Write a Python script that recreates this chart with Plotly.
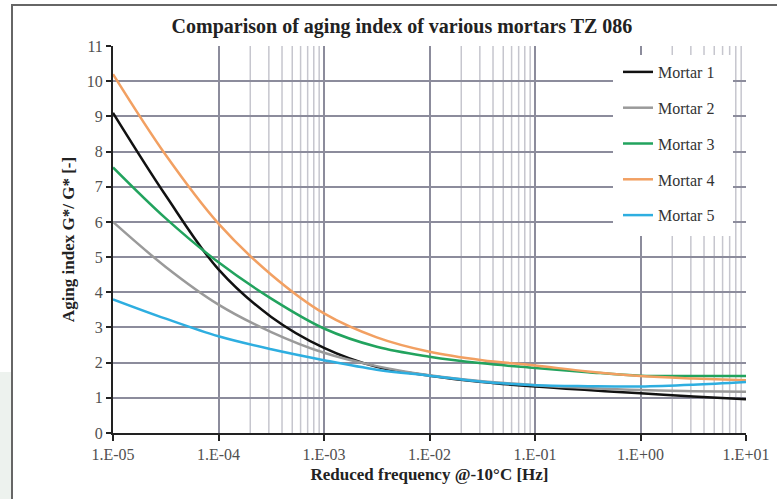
import plotly.graph_objects as go

# ---- data ----
freq = [1e-5, 3.162e-5, 1e-4, 3.162e-4, 1e-3, 3.162e-3, 1e-2,
        3.162e-2, 1e-1, 3.162e-1, 1e0, 3.162e0, 1e1]
mortar1 = [9.1, 6.75, 4.65, 3.3, 2.42, 1.88, 1.63, 1.45, 1.32, 1.22, 1.13, 1.04, 0.96]
mortar2 = [6.0, 4.72, 3.65, 2.87, 2.28, 1.9, 1.64, 1.47, 1.36, 1.28, 1.22, 1.19, 1.17]
mortar3 = [7.55, 6.1, 4.85, 3.82, 2.97, 2.45, 2.17, 1.98, 1.85, 1.73, 1.63, 1.62, 1.62]
mortar4 = [10.2, 7.9, 5.95, 4.5, 3.4, 2.72, 2.31, 2.07, 1.92, 1.75, 1.62, 1.55, 1.5]
mortar5 = [3.8, 3.25, 2.75, 2.38, 2.07, 1.8, 1.63, 1.46, 1.36, 1.33, 1.32, 1.37, 1.45]
names = ["Mortar 1", "Mortar 2", "Mortar 3", "Mortar 4", "Mortar 5"]
colors = ["#111111", "#9a9a9a", "#22a35e", "#f2a062", "#2eaee0"]

x_tickvals = [1e-5, 1e-4, 1e-3, 1e-2, 1e-1, 1e0, 1e1]
x_ticktext = ["1.E-05", "1.E-04", "1.E-03", "1.E-02", "1.E-01", "1.E+00", "1.E+01"]
y_tickvals = list(range(0, 12))
minor_decades = [1e-4, 1e-2, 1e0]
minor_mult = [2, 3, 4, 5, 6, 7, 8, 9]

title = "Comparison of aging index of various mortars TZ 086"
x_title = "Reduced frequency @-10°C [Hz]"
y_title = "Aging index G*/ G* [-]"

SERIF = "Liberation Serif, Times New Roman, serif"
W, H = 777, 499
ML, MR, MT, MB = 113, 31, 46, 66
PW, PH = W - ML - MR, H - MT - MB


def px2paper_x(px):
    return (px - ML) / PW


def px2paper_y(py):
    return (H - MB - py) / PH


fig = go.Figure()
series = [mortar1, mortar2, mortar3, mortar4, mortar5]
for i, (nm, ys, c) in enumerate(zip(names, series, colors)):
    fig.add_trace(go.Scatter(
        x=freq, y=ys, mode="lines", name=nm, legendgroup=f"g{i}",
        line=dict(color=c, width=2.5, shape="spline", smoothing=1.0),
        hoverinfo="skip"))

shapes = []
# minor vertical gridlines
for d in minor_decades:
    for m in minor_mult:
        shapes.append(dict(type="line", xref="x", yref="paper",
                           x0=m * d, x1=m * d, y0=0, y1=1, layer="below",
                           line=dict(color="#c6c6ce", width=1.5)))
# outer frame
shapes.append(dict(type="rect", xref="paper", yref="paper",
                   x0=px2paper_x(12), x1=px2paper_x(790),
                   y0=px2paper_y(510), y1=px2paper_y(5),
                   line=dict(color="#666666", width=2), layer="below"))
# light tinted strip outside frame
shapes.append(dict(type="rect", xref="paper", yref="paper",
                   x0=px2paper_x(-2), x1=px2paper_x(11),
                   y0=px2paper_y(505), y1=px2paper_y(372),
                   line=dict(width=0), fillcolor="#edf2ee", layer="below"))
# legend background box
shapes.append(dict(type="rect", xref="paper", yref="paper",
                   x0=px2paper_x(613), x1=px2paper_x(733),
                   y0=px2paper_y(236), y1=px2paper_y(55),
                   line=dict(width=0), fillcolor="white", layer="above"))

fig.update_layout(
    width=W, height=H,
    margin=dict(l=ML, r=MR, t=MT, b=MB, autoexpand=False),
    paper_bgcolor="white", plot_bgcolor="white",
    title=dict(text="<b>" + title + "</b>", x=402 / W, xanchor="center",
               y=1 - 26 / H, yanchor="middle",
               font=dict(family=SERIF, size=20, color="#222222")),
    font=dict(family=SERIF, size=16, color="#444444"),
    showlegend=True,
    legend=dict(x=px2paper_x(618), y=px2paper_y(55), xanchor="left", yanchor="top",
                bgcolor="rgba(255,255,255,0)", borderwidth=0, tracegroupgap=12,
                font=dict(family=SERIF, size=16, color="#333333"),
                itemwidth=30),
    shapes=shapes,
)

fig.update_xaxes(
    type="log", range=[-5, 1], automargin=False,
    tickvals=x_tickvals, ticktext=x_ticktext,
    showgrid=True, gridcolor="#8c8c9c", gridwidth=2,
    showline=True, linecolor="#222222", linewidth=2,
    ticks="outside", ticklen=6, tickwidth=2, tickcolor="#222222",
    tickfont=dict(family=SERIF, size=16, color="#505050"),
    title=dict(text="<b>" + x_title + "</b>", standoff=6,
               font=dict(family=SERIF, size=17, color="#222222")),
    zeroline=False,
)
fig.update_yaxes(
    range=[0, 11], tickvals=y_tickvals, automargin=False,
    showgrid=True, gridcolor="#8c8c9c", gridwidth=2,
    showline=True, linecolor="#222222", linewidth=2,
    ticks="outside", ticklen=5, tickwidth=1.5, tickcolor="#222222",
    tickfont=dict(family=SERIF, size=16, color="#505050"),
    title=dict(text="<b>" + y_title + "</b>", standoff=8,
               font=dict(family=SERIF, size=17, color="#222222")),
    zeroline=False,
)

fig.write_html("out.html")
